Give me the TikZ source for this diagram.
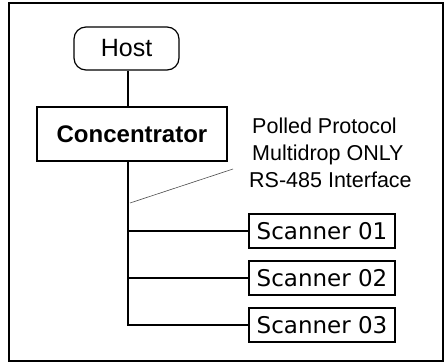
\documentclass[tikz,border=0pt]{standalone}
\usepackage{fontspec}
\setmainfont{Liberation Sans}
\newfontfamily\scanfont{DejaVu Sans}
\begin{document}
\begin{tikzpicture}[x=1pt,y=-1pt,
  box/.style={draw=black,line width=1.6pt,inner sep=0pt,fill=white},
  hostbox/.style={box,line width=1.2pt,rounded corners=12pt,minimum width=105pt,minimum height=43pt,font=\fontsize{25}{30}\selectfont},
  concbox/.style={box,minimum width=190pt,minimum height=54pt,font=\bfseries\fontsize{24}{29}\selectfont},
  scanbox/.style={box,minimum width=146pt,minimum height=34pt,font=\scanfont\fontsize{23}{28}\selectfont},
  wire/.style={line width=2.6pt,black},
  ann/.style={anchor=base west,inner sep=0pt,font=\fontsize{21.5}{27}\selectfont},
  pointer/.style={line width=0.6pt,black!70}]
\useasboundingbox (0,0) rectangle (446,362);
\draw[line width=1.6pt] (9,3) rectangle (443,361);
\node[hostbox] (host) at (126.5,48.5) {Host};
\node[concbox] (conc) at (132,134) {Concentrator};
\node[scanbox] (s1) at (322,231) {Scanner 01};
\node[scanbox] (s2) at (322,278) {Scanner 02};
\node[scanbox] (s3) at (322,325) {Scanner 03};
\coordinate (bus) at (128,0);
\draw[wire] (host.south -| bus) -- (conc.north -| bus);
\draw[wire] (conc.south -| bus) |- (s3.west);
\draw[wire] (bus |- s1.west) -- (s1.west);
\draw[wire] (bus |- s2.west) -- (s2.west);
\node[ann] (a1) at (252,133) {Polled Protocol};
\node[ann] (a2) at (252,160) {Multidrop ONLY};
\node[ann] (a3) at (249,187) {RS-485 Interface};
\coordinate (p1) at (233,169);
\coordinate (p2) at (130,203);
\draw[pointer] (p1) -- (p2);
\end{tikzpicture}
\end{document}
